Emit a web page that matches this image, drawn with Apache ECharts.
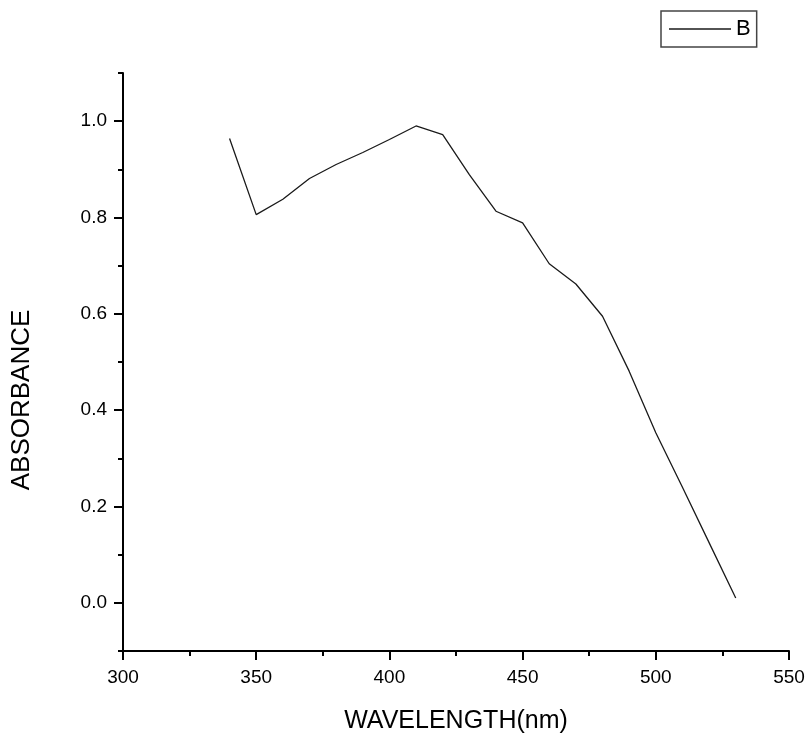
<!DOCTYPE html>
<html>
<head>
<meta charset="utf-8">
<script src="https://cdn.jsdelivr.net/npm/echarts@6/dist/echarts.min.js"></script>
<style>
html,body{margin:0;padding:0;background:#fff;}
#c{width:808px;height:733px;}
</style>
</head>
<body>
<div id="c"></div>
<script>
const wavelengths = [340,350,360,370,380,390,400,410,420,430,440,450,460,470,480,490,500,510,520,530];
const absorbance = [0.964,0.806,0.838,0.881,0.910,0.935,0.962,0.990,0.972,0.889,0.813,0.789,0.704,0.662,0.595,0.481,0.353,0.240,0.125,0.010];
const yMajorTicks = [0.0,0.2,0.4,0.6,0.8,1.0];
const yMinorTicks = [-0.1,0.1,0.3,0.5,0.7,0.9,1.1];
const seriesName = 'B';
const xTitle = 'WAVELENGTH(nm)';
const yTitle = 'ABSORBANCE';

const FONT = '"Liberation Sans", Arial, sans-serif';
const chart = echarts.init(document.getElementById('c'), null, {renderer:'canvas'});
const axisColor = '#000';
chart.setOption({
  animation:false,
  backgroundColor:'#fff',
  grid:{left:123, right:19, top:73, bottom:82, containLabel:false, outerBoundsMode:'none'},
  legend:{
    left:661, top:11,
    padding:[7,6,7,8],
    borderColor:'#444', borderWidth:1.5,
    itemWidth:62, itemHeight:1.5, itemGap:9,
    textStyle:{fontFamily:FONT, fontSize:22, color:'#000'},
    data:[{name:seriesName, icon:'rect'}]
  },
  graphic:[{
    type:'text', x:22, y:400, rotation:Math.PI/2,
    style:{text:yTitle, font:'26px "Liberation Sans", Arial, sans-serif', fill:'#000', align:'center', verticalAlign:'middle'}
  }],
  xAxis:{
    type:'value', min:300, max:550, interval:50,
    name:xTitle, nameLocation:'middle', nameGap:58,
    nameTextStyle:{fontFamily:FONT, fontSize:25, color:'#000'},
    axisLine:{show:true, onZero:false, lineStyle:{color:axisColor, width:2}},
    axisTick:{show:true, inside:false, length:9, lineStyle:{color:axisColor, width:2}},
    minorTick:{show:true, splitNumber:2, length:5, lineStyle:{color:axisColor, width:2}},
    axisLabel:{fontFamily:FONT, fontSize:19, color:'#000', margin:17},
    splitLine:{show:false}
  },
  yAxis:[{
    type:'value', min:-0.1, max:1.1,
    axisLine:{show:true, onZero:false, lineStyle:{color:axisColor, width:2}},
    axisTick:{show:true, inside:false, length:9, customValues:yMajorTicks, lineStyle:{color:axisColor, width:2}},
    axisLabel:{fontFamily:FONT, fontSize:19, color:'#000', margin:16, customValues:yMajorTicks,
      formatter:v=>v.toFixed(1)},
    splitLine:{show:false}
  },{
    type:'value', min:-0.1, max:1.1, position:'left',
    axisLine:{show:false},
    axisTick:{show:true, inside:false, length:5, customValues:yMinorTicks, lineStyle:{color:axisColor, width:2}},
    axisLabel:{show:false},
    splitLine:{show:false}
  }],
  series:[{
    name:seriesName, type:'line', yAxisIndex:0,
    data:wavelengths.map((w,i)=>[w,absorbance[i]]),
    symbol:'none', showSymbol:false,
    lineStyle:{color:'#1a1a1a', width:1.3},
    itemStyle:{color:'#1a1a1a'}
  }]
});
</script>
</body>
</html>
